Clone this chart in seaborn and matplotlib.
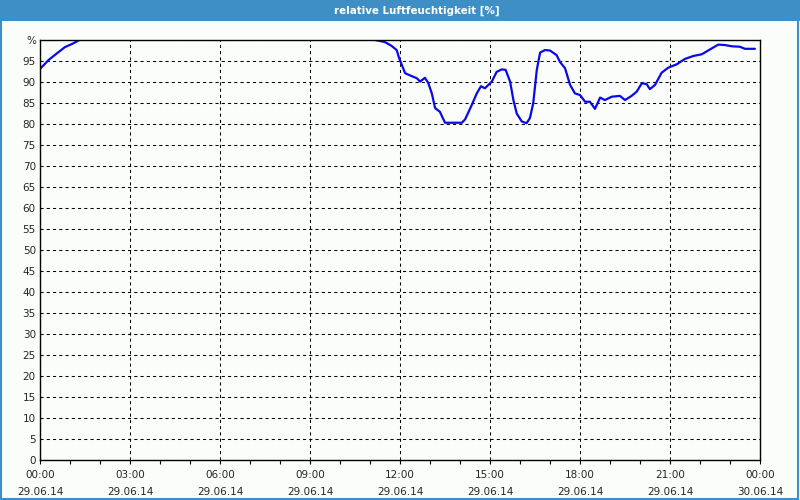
import matplotlib
matplotlib.use("Agg")
import matplotlib.pyplot as plt
import matplotlib.patches as mpatches
from matplotlib.ticker import MultipleLocator
import seaborn as sns
import pandas as pd

# Messwerte (Stunden ab 29.06.14 00:00, relative Luftfeuchtigkeit in %)
stunden = [0.0, 0.28, 0.56, 0.83, 1.11, 1.31, 1.5, 3.0, 6.0, 9.0, 11.0, 11.17,
           11.5, 11.72, 11.89, 11.97, 12.17, 12.39, 12.56, 12.67, 12.83, 12.94,
           13.06, 13.17, 13.33, 13.5, 14.06, 14.17, 14.39, 14.56, 14.7, 14.83,
           15.06, 15.22, 15.39, 15.52, 15.67, 15.78, 15.89, 16.06, 16.22, 16.33,
           16.44, 16.56, 16.67, 16.83, 17.0, 17.22, 17.33, 17.5, 17.67, 17.83,
           18.0, 18.17, 18.33, 18.5, 18.67, 18.83, 19.06, 19.33, 19.5, 19.72,
           19.89, 20.06, 20.22, 20.33, 20.5, 20.72, 20.94, 21.22, 21.5, 21.78,
           22.06, 22.39, 22.61, 22.83, 23.06, 23.33, 23.5, 23.83]
feuchte = [93.1, 95.2, 96.8, 98.3, 99.2, 100.0, 100.6, 101.5, 102.0, 101.5, 100.6, 100.0,
           99.5, 98.6, 97.6, 95.7, 92.1, 91.4, 90.9, 90.1, 91.0, 89.8,
           87.3, 83.8, 82.9, 80.3, 80.3, 81.1, 84.5, 87.3, 89.0, 88.5,
           90.1, 92.4, 93.0, 92.9, 90.1, 85.7, 82.5, 80.6, 80.2, 81.4,
           84.9, 92.9, 97.0, 97.6, 97.5, 96.4, 94.8, 93.3, 89.3, 87.3,
           86.9, 85.3, 85.3, 83.6, 86.3, 85.7, 86.5, 86.7, 85.7, 86.7,
           87.7, 89.7, 89.5, 88.3, 89.3, 92.2, 93.4, 94.2, 95.5, 96.2,
           96.6, 98.0, 98.9, 98.8, 98.5, 98.4, 97.9, 97.9]

x_ticks = [0, 3, 6, 9, 12, 15, 18, 21, 24]
x_labels = ["00:00\n29.06.14", "03:00\n29.06.14", "06:00\n29.06.14",
            "09:00\n29.06.14", "12:00\n29.06.14", "15:00\n29.06.14",
            "18:00\n29.06.14", "21:00\n29.06.14", "00:00\n30.06.14"]
y_ticks = list(range(0, 101, 5))
y_labels = [str(v) for v in range(0, 100, 5)] + ["%"]

df = pd.DataFrame({"h": stunden, "rf": feuchte})

sns.set_style("white")
plt.rcParams["font.family"] = ["DejaVu Sans"]

fig = plt.figure(figsize=(8, 5), dpi=100)
fig.patch.set_facecolor("#fbfdfb")

# Titelleiste und Fensterrahmen
fig.patches.append(mpatches.Rectangle((0, 0.959), 1, 0.041, transform=fig.transFigure,
                                      facecolor="#3d8fc6", edgecolor="none", zorder=0))
fig.patches.append(mpatches.Rectangle((0.001, 0.002), 0.997, 0.996, transform=fig.transFigure,
                                      facecolor="none", edgecolor="#3d8fc6", lw=1.5, zorder=0))
fig.text(0.521, 0.979, "relative Luftfeuchtigkeit [%]", color="white", fontsize=7.4,
         fontweight="bold", ha="center", va="center")

ax = fig.add_axes([0.05, 0.08, 0.90, 0.84])
ax.set_facecolor("#fbfdfb")
sns.lineplot(data=df, x="h", y="rf", ax=ax, color="#0a0ae8", linewidth=1.6)

ax.set_xlim(0, 24)
ax.set_ylim(0, 100)
ax.set_xticks(x_ticks)
ax.set_xticklabels(x_labels, fontsize=7.5, linespacing=1.9)
ax.xaxis.set_minor_locator(MultipleLocator(1))
ax.set_yticks(y_ticks)
ax.set_yticklabels(y_labels, fontsize=7.5)
ax.tick_params(axis="x", which="both", direction="out", length=3, width=0.8,
               color="black", pad=4, bottom=True)
ax.tick_params(axis="y", which="both", length=0, pad=3, left=False)
ax.set_xlabel("")
ax.set_ylabel("")

ax.grid(True, which="major", color="black", linestyle=(0, (3, 3)), linewidth=0.75)
for s in ax.spines.values():
    s.set_color("black")
    s.set_linewidth(1.0)
    s.set_visible(True)

fig.savefig("out.png", dpi=100, facecolor=fig.get_facecolor())
